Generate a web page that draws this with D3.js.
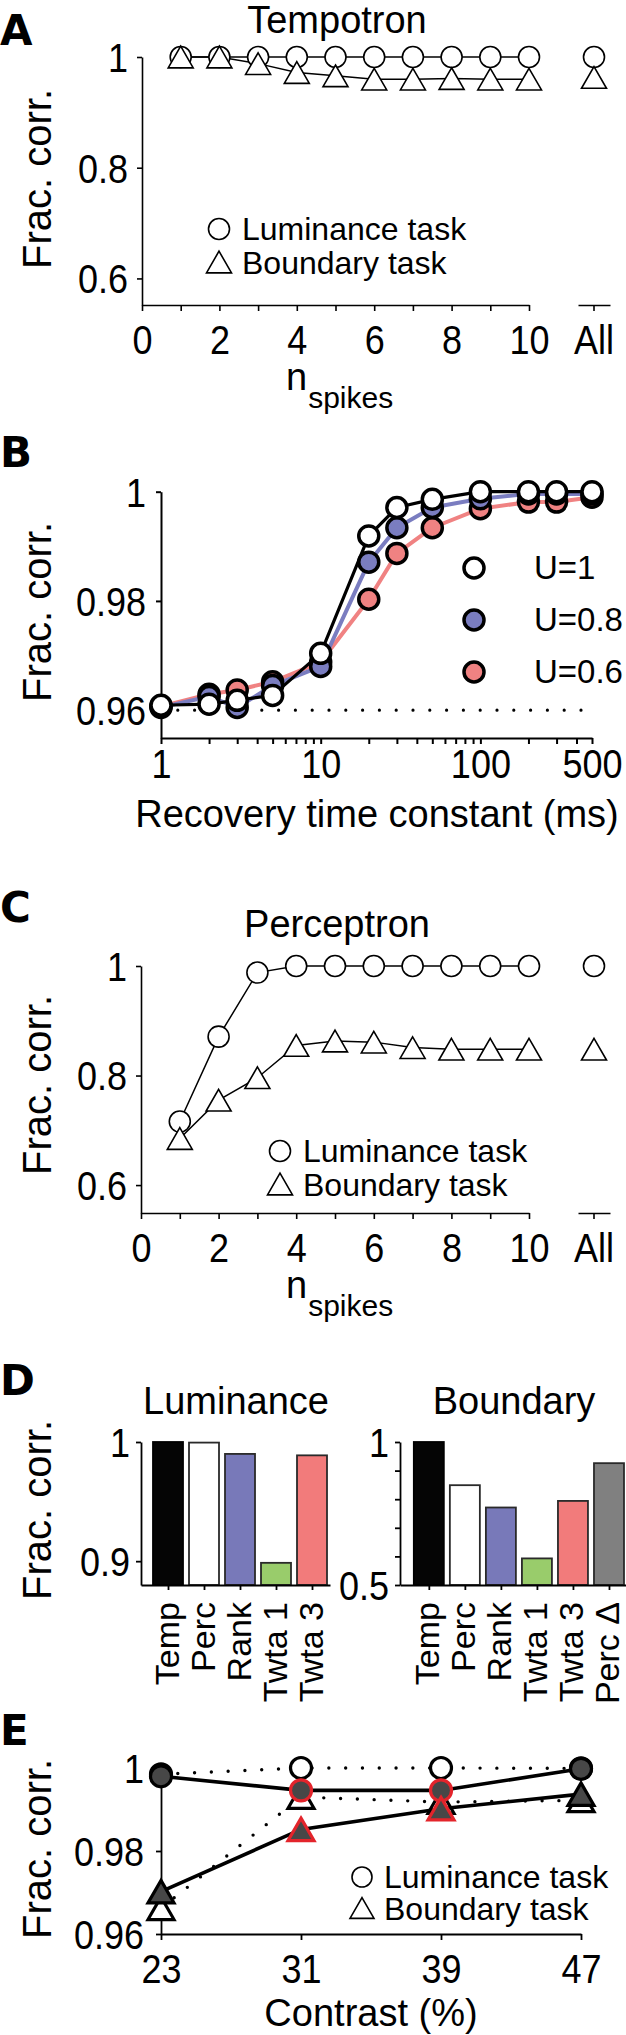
<!DOCTYPE html>
<html><head><meta charset="utf-8">
<script src="https://cdn.jsdelivr.net/npm/d3@7"></script>
<style>
body{margin:0;background:#fff}
svg{display:block}
</style></head><body><svg id="c" width="626" height="2035"></svg>
<script>
// ---------- DATA ----------
const nSpikes = [1,2,3,4,5,6,7,8,9,10];
const allLabel = ["All"];
const tempLum = [1,1,1,1,1,1,1,1,1,1];
const tempLumAll = [1.0];
const tempBnd = [1.0,1.0,0.988,0.972,0.966,0.960,0.960,0.961,0.960,0.960];
const tempBndAll = [0.963];

const recTau = [1,2,3,5,10,20,30,50,100,200,300,500];
const recU1  = [0.9609,0.9611,0.9618,0.9627,0.9704,0.9919,0.9971,0.9986,1.0,1.0,1.0,1.0];
const recU08 = [0.9605,0.9625,0.9605,0.9645,0.9680,0.9871,0.9934,0.9971,0.9987,0.9996,0.9996,0.9996];
const recU06 = [0.9607,0.9629,0.9637,0.9652,0.9688,0.9803,0.9887,0.9934,0.9969,0.9981,0.9981,0.9990];
const recLegend = ["U=1","U=0.8","U=0.6"];
const chance = 0.96;

const percLum = [0.716,0.871,0.988,1,1,1,1,1,1,1];
const percLumAll = [1.0];
const percBnd = [0.685,0.755,0.796,0.855,0.863,0.861,0.851,0.848,0.848,0.848];
const percBndAll = [0.848];

const lumModels = ["Temp","Perc","Rank","Twta 1","Twta 3"];
const lumVals = [1.0,0.9995,0.990,0.8986,0.9888];
const bndModels = ["Temp","Perc","Rank","Twta 1","Twta 3","Perc \u0394"];
const bndVals = [1.0,0.849,0.771,0.593,0.794,0.926];
const modelColors = ["#050505","#ffffff","#7879b9","#99cc6b","#f27b7b","#808080"];

const contrast = [23,31,39,47];
const eLumDot   = [0.9985,1.0,1.0,0.9999];
const eLumSolid = [0.9980,0.9946,0.9946,0.9998];
const eBndDot   = [0.9662,0.9930,0.9918,0.9922];
const eBndSolid = [0.9702,0.9852,0.9902,0.9937];
const eRedIdx = [1,2];

// ---------- HELPERS ----------
const FONT = '"Liberation Sans", Arial, Helvetica, sans-serif';
const svg = d3.select("#c");
const TICK_FS = 40;
const SX = 0.9;   // tick labels are slightly condensed in the reference

function styleAxis(g, fs, sw) {
  g.attr("font-size", null).attr("font-family", null);
  g.selectAll("path.domain").attr("stroke", "#000").attr("stroke-width", sw || 1.8);
  g.selectAll(".tick line").attr("stroke", "#000").attr("stroke-width", sw || 1.8);
  g.selectAll("text").attr("font-size", fs).attr("font-family", FONT).attr("fill", "#000");
}
function bottomAxis(scale, y, ticks, fmt, tickLen, labelOff, fs, sw, sx) {
  const g = svg.append("g").attr("transform", `translate(0,${y})`)
    .call(d3.axisBottom(scale).tickValues(ticks).tickFormat(fmt).tickSizeInner(tickLen).tickSizeOuter(0));
  g.selectAll("text").attr("y", labelOff).attr("dy", null);
  if (sx) g.selectAll("text").attr("transform", `scale(${sx},1)`);
  styleAxis(g, fs, sw);
  return g;
}
function leftAxis(scale, x, ticks, fmt, tickLen, pad, fs, sw) {
  const g = svg.append("g").attr("transform", `translate(${x},0)`)
    .call(d3.axisLeft(scale).tickValues(ticks).tickFormat(fmt).tickSizeInner(tickLen).tickSizeOuter(0).tickPadding(pad));
  g.selectAll("text").attr("dy", "0.36em")
    .attr("x", -(tickLen + pad) / SX).attr("transform", `scale(${SX},1)`);
  styleAxis(g, fs, sw);
  return g;
}
function text(x, y, s, fs, opts) {
  opts = opts || {};
  return svg.append("text").attr("x", x).attr("y", y).text(s)
    .attr("font-size", fs).attr("font-family", opts.family || FONT)
    .attr("font-weight", opts.weight || "normal")
    .attr("text-anchor", opts.anchor || "start").attr("fill", "#000");
}
function vtext(x, y, s, fs) {
  return svg.append("text").attr("transform", `translate(${x},${y}) rotate(-90)`)
    .text(s).attr("font-size", fs).attr("font-family", FONT).attr("text-anchor", "middle").attr("fill", "#000");
}
function panelLetter(x, y, s) {
  text(x, y, s, 42, {weight: "bold", family: '"DejaVu Sans", "Liberation Sans", Arial, sans-serif'});
}
function triPath(s) {
  const h = s * 0.866;
  return `M0,${-h/2}L${s/2},${h/2}L${-s/2},${h/2}Z`;
}
function nspikes(y) {
  const t = svg.append("text").attr("x", 286).attr("y", y).attr("font-family", FONT).attr("fill", "#000");
  t.append("tspan").attr("font-size", 38).text("n");
  t.append("tspan").attr("font-size", 30).attr("dy", 18).attr("dx", 1).text("spikes");
}

// ---------- PANEL A & C (shared layout) ----------
function spikePanel(cfg) {
  const x = d3.scaleLinear().domain([0, 10]).range([cfg.x0, 529]);
  const xAll = d3.scaleBand().domain(allLabel).range([578, 610]);
  const y = d3.scaleLinear().domain([cfg.yMin, 1]).range([cfg.axisY, cfg.topY]);

  leftAxis(y, cfg.x0, [0.6, 0.8, 1], d => d === 1 ? "1" : d3.format(".1f")(d), 5, 9, TICK_FS, 1.6);
  bottomAxis(x, cfg.axisY, d3.range(0, 11), d => d % 2 ? "" : d, 6, 49, TICK_FS, 1.6, SX);
  bottomAxis(xAll, cfg.axisY, allLabel, d => d, 6, 49, TICK_FS, 1.6, SX);

  const line = d3.line().x((d, i) => x(nSpikes[i])).y(d => y(d));
  svg.append("path").attr("d", line(cfg.lum)).attr("fill", "none").attr("stroke", "#000").attr("stroke-width", 1.5);
  svg.append("path").attr("d", line(cfg.bnd)).attr("fill", "none").attr("stroke", "#000").attr("stroke-width", 1.5);
  const circ = (cx, cy) => svg.append("circle").attr("cx", cx).attr("cy", cy).attr("r", 10.5)
    .attr("fill", "#fff").attr("stroke", "#000").attr("stroke-width", 1.6);
  const tri = (cx, cy) => svg.append("path").attr("d", triPath(25)).attr("transform", `translate(${cx},${cy})`)
    .attr("fill", "#fff").attr("stroke", "#000").attr("stroke-width", 1.6);
  cfg.lum.forEach((v, i) => circ(x(nSpikes[i]), y(v)));
  circ(xAll("All") + xAll.bandwidth() / 2, y(cfg.lumAll[0]));
  cfg.bnd.forEach((v, i) => tri(x(nSpikes[i]), y(v)));
  tri(xAll("All") + xAll.bandwidth() / 2, y(cfg.bndAll[0]));

  // legend
  circ(cfg.legX, cfg.legY1);
  text(cfg.legX + 23, cfg.legY1 + 11, "Luminance task", 32);
  tri(cfg.legX, cfg.legY2);
  text(cfg.legX + 23, cfg.legY2 + 12, "Boundary task", 32);

  text(337, cfg.titleY, cfg.title, 38, {anchor: "middle"});
  vtext(51, cfg.fracY, "Frac. corr.", 40);
  nspikes(cfg.axisY + 85);
}

panelLetter(0, 45, "A");
spikePanel({title: "Tempotron", titleY: 33, x0: 142, axisY: 305, topY: 57, yMin: 0.552,
  lum: tempLum, lumAll: tempLumAll, bnd: tempBnd, bndAll: tempBndAll,
  legX: 219, legY1: 229, legY2: 262, fracY: 179});

// ---------- PANEL B ----------
panelLetter(0, 467, "B");
{
  const x = d3.scaleLog().domain([1, 500]).range([161, 592]);
  const y = d3.scaleLinear().domain([0.9549, 1]).range([738, 491.7]);
  const minor = [1,2,3,4,5,6,7,8,9,10,20,30,40,50,60,70,80,90,100,200,300,400,500];
  const major = [1,10,100,500];
  leftAxis(y, 161, [0.96, 0.98, 1], d => d === 1 ? "1" : d3.format(".2f")(d), 5, 10, TICK_FS, 2);
  bottomAxis(x, 738, minor, d => major.includes(d) ? d : "", 6, 40, TICK_FS, 2, SX);

  // chance line (dotted)
  svg.append("line").attr("x1", x(1)).attr("x2", 582).attr("y1", y(chance)).attr("y2", y(chance))
    .attr("stroke", "#000").attr("stroke-width", 3.2).attr("stroke-linecap", "round").attr("stroke-dasharray", "0,16.8");

  const series = [
    {v: recU06, c: "#f08282", lc: "#f08282", lw: 4},
    {v: recU08, c: "#7a7dc0", lc: "#7a7dc0", lw: 4},
    {v: recU1, c: "#ffffff", lc: "#000000", lw: 3.2}
  ];
  const line = d3.line().x((d, i) => x(recTau[i])).y(d => y(d));
  series.forEach(s => {
    svg.append("path").attr("d", line(s.v)).attr("fill", "none").attr("stroke", s.lc)
      .attr("stroke-width", s.lw).attr("stroke-linejoin", "round");
  });
  series.forEach(s => {
    s.v.forEach((v, i) => svg.append("circle").attr("cx", x(recTau[i])).attr("cy", y(v)).attr("r", 10)
      .attr("fill", s.c).attr("stroke", "#000").attr("stroke-width", 3.5));
  });
  // legend
  const legFills = ["#ffffff", "#7a7dc0", "#f08282"];
  const legY = [568, 620, 672];
  recLegend.forEach((l, i) => {
    svg.append("circle").attr("cx", 474).attr("cy", legY[i]).attr("r", 10)
      .attr("fill", legFills[i]).attr("stroke", "#000").attr("stroke-width", 3.5);
    text(534, legY[i] + 11, l, 33);
  });
  vtext(51, 612, "Frac. corr.", 40);
  text(377, 827, "Recovery time constant (ms)", 38, {anchor: "middle"});
}

// ---------- PANEL C ----------
panelLetter(0, 922, "C");
spikePanel({title: "Perceptron", titleY: 937, x0: 141, axisY: 1213, topY: 966, yMin: 0.549,
  lum: percLum, lumAll: percLumAll, bnd: percBnd, bndAll: percBndAll,
  legX: 280, legY1: 1151, legY2: 1184, fracY: 1085});

// ---------- PANEL D ----------
panelLetter(0, 1395, "D");
function barPanel(cfg) {
  const x = d3.scaleLinear().domain(cfg.xdom).range(cfg.xr);
  const y = d3.scaleLinear().domain([cfg.yMin, 1]).range([1585, 1442]);
  const idx = cfg.models.map((m, i) => i + 1);
  cfg.vals.forEach((v, i) => {
    svg.append("rect").attr("x", x(i + 1) - 15).attr("width", 30)
      .attr("y", y(v)).attr("height", y(cfg.yMin) - y(v))
      .attr("fill", modelColors[i]).attr("stroke", i === 0 ? "#000" : "#2a2a2a").attr("stroke-width", 1.8);
  });
  leftAxis(y, cfg.xr[0], cfg.yTicks, d => cfg.yLabels.includes(d) ? (d === 1 ? "1" : d3.format(".1f")(d)) : "", 5, 6, TICK_FS, 1.8);
  const g = bottomAxis(x, 1585, idx, d => cfg.models[d - 1], 5, 0, 34, 1.8);
  g.selectAll("text").attr("text-anchor", "end").attr("y", null).attr("dy", null)
    .attr("transform", "translate(10,17) rotate(-90)");
  text(cfg.titleX, 1414, cfg.title, 38, {anchor: "middle"});
}
barPanel({title: "Luminance", titleX: 236, models: lumModels, vals: lumVals, xdom: [0.25, 5.5], xr: [141, 330],
  yMin: 0.88, yTicks: [0.9, 1], yLabels: [0.9, 1]});
barPanel({title: "Boundary", titleX: 514, models: bndModels, vals: bndVals, xdom: [0.2, 6.5], xr: [400, 627],
  yMin: 0.5, yTicks: [0.5, 0.6, 0.7, 0.8, 0.9, 1], yLabels: [0.5, 1]});
vtext(51, 1510, "Frac. corr.", 40);

// ---------- PANEL E ----------
panelLetter(0, 1745, "E");
{
  const x = d3.scaleLinear().domain([23, 47]).range([161, 581]);
  const y = d3.scaleLinear().domain([0.96, 1]).range([1934, 1768]);
  leftAxis(y, 161, [0.96, 0.98, 1], d => d === 1 ? "1" : d3.format(".2f")(d), 5, 12, TICK_FS, 1.8);
  bottomAxis(x, 1934, contrast, d => d, 6, 49, TICK_FS, 1.8, SX);

  const line = d3.line().x((d, i) => x(contrast[i])).y(d => y(d));
  const dotted = v => svg.append("path").attr("d", line(v)).attr("fill", "none").attr("stroke", "#000")
    .attr("stroke-width", 3.4).attr("stroke-linecap", "round").attr("stroke-dasharray", "0,16.8");
  const solid = v => svg.append("path").attr("d", line(v)).attr("fill", "none").attr("stroke", "#000")
    .attr("stroke-width", 3.6);
  const circ = (cx, cy, fill, stroke) => svg.append("circle").attr("cx", cx).attr("cy", cy).attr("r", 10.5)
    .attr("fill", fill).attr("stroke", stroke).attr("stroke-width", 3.2);
  const tri = (cx, cy, fill, stroke) => svg.append("path").attr("d", triPath(26)).attr("transform", `translate(${cx},${cy})`)
    .attr("fill", fill).attr("stroke", stroke).attr("stroke-width", 3.2);

  dotted(eLumDot); dotted(eBndDot);
  eLumDot.forEach((v, i) => circ(x(contrast[i]), y(v), "#fff", "#000"));
  eBndDot.forEach((v, i) => tri(x(contrast[i]), y(v), "#fff", "#000"));
  solid(eLumSolid); solid(eBndSolid);
  eLumSolid.forEach((v, i) => circ(x(contrast[i]), y(v), "#474747", eRedIdx.includes(i) ? "#e3242b" : "#000"));
  eBndSolid.forEach((v, i) => tri(x(contrast[i]), y(v), "#474747", eRedIdx.includes(i) ? "#e3242b" : "#000"));

  // legend
  svg.append("circle").attr("cx", 362).attr("cy", 1877).attr("r", 10).attr("fill", "#fff").attr("stroke", "#000").attr("stroke-width", 1.6);
  text(384, 1888, "Luminance task", 32);
  svg.append("path").attr("d", triPath(24)).attr("transform", "translate(362,1908)").attr("fill", "#fff").attr("stroke", "#000").attr("stroke-width", 1.6);
  text(384, 1920, "Boundary task", 32);

  vtext(51, 1849, "Frac. corr.", 40);
  text(371, 2026, "Contrast (%)", 38, {anchor: "middle"});
}
</script></body></html>
